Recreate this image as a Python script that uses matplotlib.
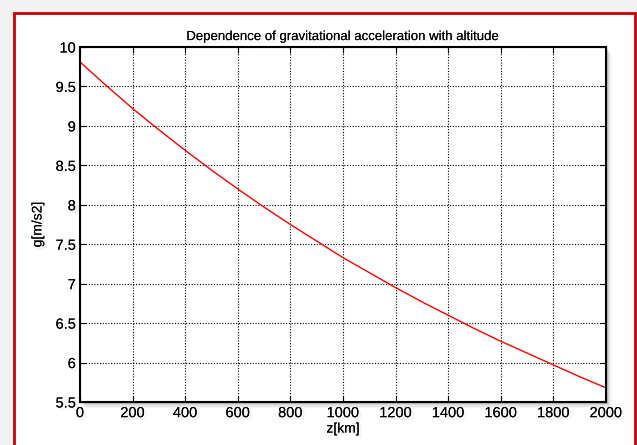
import matplotlib
matplotlib.use('Agg')
import matplotlib.pyplot as plt
import matplotlib.patheffects as pe
from matplotlib.patches import Rectangle

# altitude in km and gravitational acceleration
z_km = [0, 100, 200, 300, 400, 500, 600, 700, 800, 900, 1000,
        1100, 1200, 1300, 1400, 1500, 1600, 1700, 1800, 1900, 2000]
g_ms2 = [9.81, 9.51, 9.22, 8.95, 8.69, 8.44, 8.20, 7.97, 7.75, 7.54, 7.33,
         7.14, 6.95, 6.77, 6.60, 6.43, 6.27, 6.12, 5.97, 5.82, 5.68]

xticks = list(range(0, 2001, 200))
yticks = [5.5, 6, 6.5, 7, 7.5, 8, 8.5, 9, 9.5, 10]
ytick_labels = ['5.5', '6', '6.5', '7', '7.5', '8', '8.5', '9', '9.5', '10']

plt.rcParams['font.family'] = ['Liberation Sans', 'DejaVu Sans']

W, H = 637, 445
fig = plt.figure(figsize=(W / 100, H / 100), dpi=100)
fig.patch.set_facecolor('#f2f2f2')

# white panel with red border (runs off the bottom edge)
fig.patches.append(Rectangle((14 / W, -0.05), (635 - 14) / W, 1.05 - 13 / H,
                             transform=fig.transFigure, facecolor='white',
                             edgecolor='#cc0000', linewidth=2, zorder=0))

left, right, top, bottom = 80, 606, 47, 402
ax_rect = [left / W, 1 - bottom / H, (right - left) / W, (bottom - top) / H]

# soft drop shadow behind the axes
for i, a in enumerate([0.10, 0.08, 0.06, 0.04]):
    d = (i + 1) * 1.5
    fig.patches.append(Rectangle((ax_rect[0] + d / W, ax_rect[1] - d / H),
                                 ax_rect[2], ax_rect[3], transform=fig.transFigure,
                                 facecolor='black', alpha=a, edgecolor='none', zorder=1))

ax = fig.add_axes(ax_rect)
ax.set_zorder(5)
ax.plot(z_km, g_ms2, color='red', linewidth=1)

ax.set_xlim(0, 2000)
ax.set_ylim(5.5, 10)
ax.set_xticks(xticks)
ax.set_yticks(yticks)
ax.set_yticklabels(ytick_labels)
ax.grid(True, color='black', linestyle=(0, (1, 1.5)), linewidth=0.8)
ax.tick_params(direction='in', top=True, right=True, length=4, labelsize=10.5,
               pad=3)
for s in ax.spines.values():
    s.set_linewidth(1.5)

shadow = [pe.withSimplePatchShadow(offset=(2, -2), shadow_rgbFace='gray', alpha=0.12),
          pe.Normal()]
ax.set_title('Dependence of gravitational acceleration with altitude',
             fontsize=9.5, pad=5, path_effects=shadow)
ax.set_xlabel('z[km]', fontsize=10, labelpad=1, path_effects=shadow)
ax.set_ylabel('g[m/s2]', fontsize=10, labelpad=8, path_effects=shadow)
for lbl in ax.get_xticklabels() + ax.get_yticklabels():
    lbl.set_path_effects(shadow)

fig.savefig('out.png', dpi=100, facecolor=fig.get_facecolor())
